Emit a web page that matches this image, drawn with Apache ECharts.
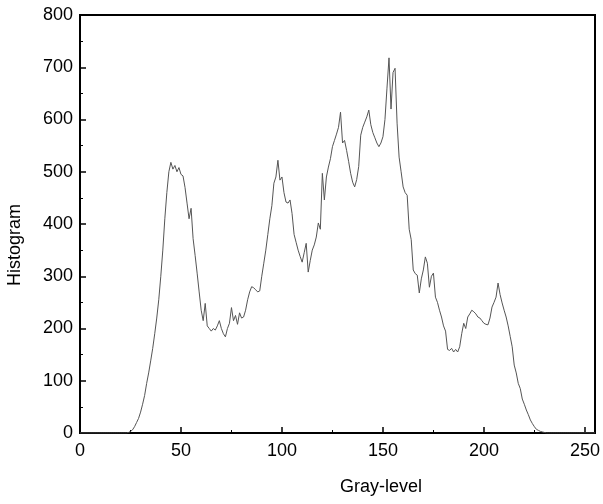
<!DOCTYPE html>
<html>
<head>
<meta charset="utf-8">
<script src="https://cdn.jsdelivr.net/npm/echarts@6/dist/echarts.min.js"></script>
<style>html,body{margin:0;padding:0;background:#fff;}#c{width:603px;height:504px;}</style>
</head>
<body>
<div id="c"></div>
<script>
// Gray levels 0..255
const grayLevels = Array.from({length: 256}, (_, i) => i);
// Histogram counts, gray levels 0..255
const counts0to59 = [
  0,0,0,0,0,0,0,0,0,0, 0,0,0,0,0,0,0,0,0,0,
  0,0,0,0,1,3,6,12,20,28, 40,55,72,95,115,138,162,190,220,255,
  300,350,410,460,500,518,505,512,500,508, 495,492,470,440,410,430,372,340,306,270
];
const counts60to119 = [
  235,215,248,205,200,195,200,197,205,215, 200,190,184,200,210,240,215,225,208,230,
  220,222,235,255,270,280,278,274,270,272, 300,325,350,380,410,435,478,490,522,484,
  490,460,442,440,446,420,380,365,350,338, 327,345,363,308,330,350,360,375,402,390
];
const counts120to179 = [
  497,446,490,509,525,548,560,572,585,614, 555,560,541,520,497,480,471,485,510,570,
  585,595,605,618,590,575,565,555,548,555, 567,600,660,718,620,690,698,593,528,500,
  471,460,455,390,370,312,305,302,268,295, 312,337,325,279,300,306,260,250,235,222
];
const counts180to255 = [
  205,195,160,158,162,155,160,155,165,190, 210,200,222,228,235,232,228,222,220,215,
  210,208,207,220,241,250,260,287,265,249, 235,222,205,185,165,130,115,95,85,65,
  55,44,35,25,18,12,7,5,3,2, 1,0,0,0,0,0,0,0,0,0,
  0,0,0,0,0,0,0,0,0,0, 0,0,0,0,0,0
];
const counts = counts0to59.concat(counts60to119, counts120to179, counts180to255);
const xTickLabels = [0, 50, 100, 150, 200, 250];
const yTickLabels = [0, 100, 200, 300, 400, 500, 600, 700, 800];

const chart = echarts.init(document.getElementById('c'), null, {renderer: 'canvas'});
const font = 'Arial, "Liberation Sans", sans-serif';
chart.setOption({
  animation: false,
  backgroundColor: '#fff',
  grid: {left: 80, right: 8, top: 15, bottom: 71, show: true, borderColor: '#000', borderWidth: 2},
  xAxis: {
    type: 'value', min: 0, max: 255, interval: 50,
    axisLine: {onZero: false, lineStyle: {color: '#000', width: 2}},
    axisTick: {inside: true, length: 6, lineStyle: {color: '#000', width: 1.5}},
    minorTick: {show: true, splitNumber: 2, length: 3, lineStyle: {color: '#000', width: 1}},
    splitLine: {show: false},
    axisLabel: {showMaxLabel: false, color: '#000', fontSize: 18, fontFamily: font, margin: 9,
      formatter: v => xTickLabels.includes(v) ? String(v) : ''}
  },
  yAxis: {
    type: 'value', min: 0, max: 800, interval: 100,
    axisLine: {lineStyle: {color: '#000', width: 2}},
    axisTick: {inside: true, length: 6, lineStyle: {color: '#000', width: 1.5}},
    minorTick: {show: true, splitNumber: 2, length: 3, lineStyle: {color: '#000', width: 1}},
    splitLine: {show: false},
    axisLabel: {color: '#000', fontSize: 18, fontFamily: font, margin: 7,
      formatter: v => yTickLabels.includes(v) ? String(v) : ''}
  },
  graphic: [
    {type: 'text', left: 340, top: 478, style: {text: 'Gray-level', fill: '#000', font: '18px ' + font, textAlign: 'center'}},
    {type: 'text', x: 6, y: 245, rotation: Math.PI / 2, style: {text: 'Histogram', fill: '#000', font: '18px ' + font, textAlign: 'center', textVerticalAlign: 'top'}}
  ],
  series: [{
    type: 'line', showSymbol: false, symbol: 'none',
    data: grayLevels.map((g, i) => [g, counts[i]]),
    lineStyle: {color: '#555', width: 1},
    silent: true
  }]
});
</script>
</body>
</html>
